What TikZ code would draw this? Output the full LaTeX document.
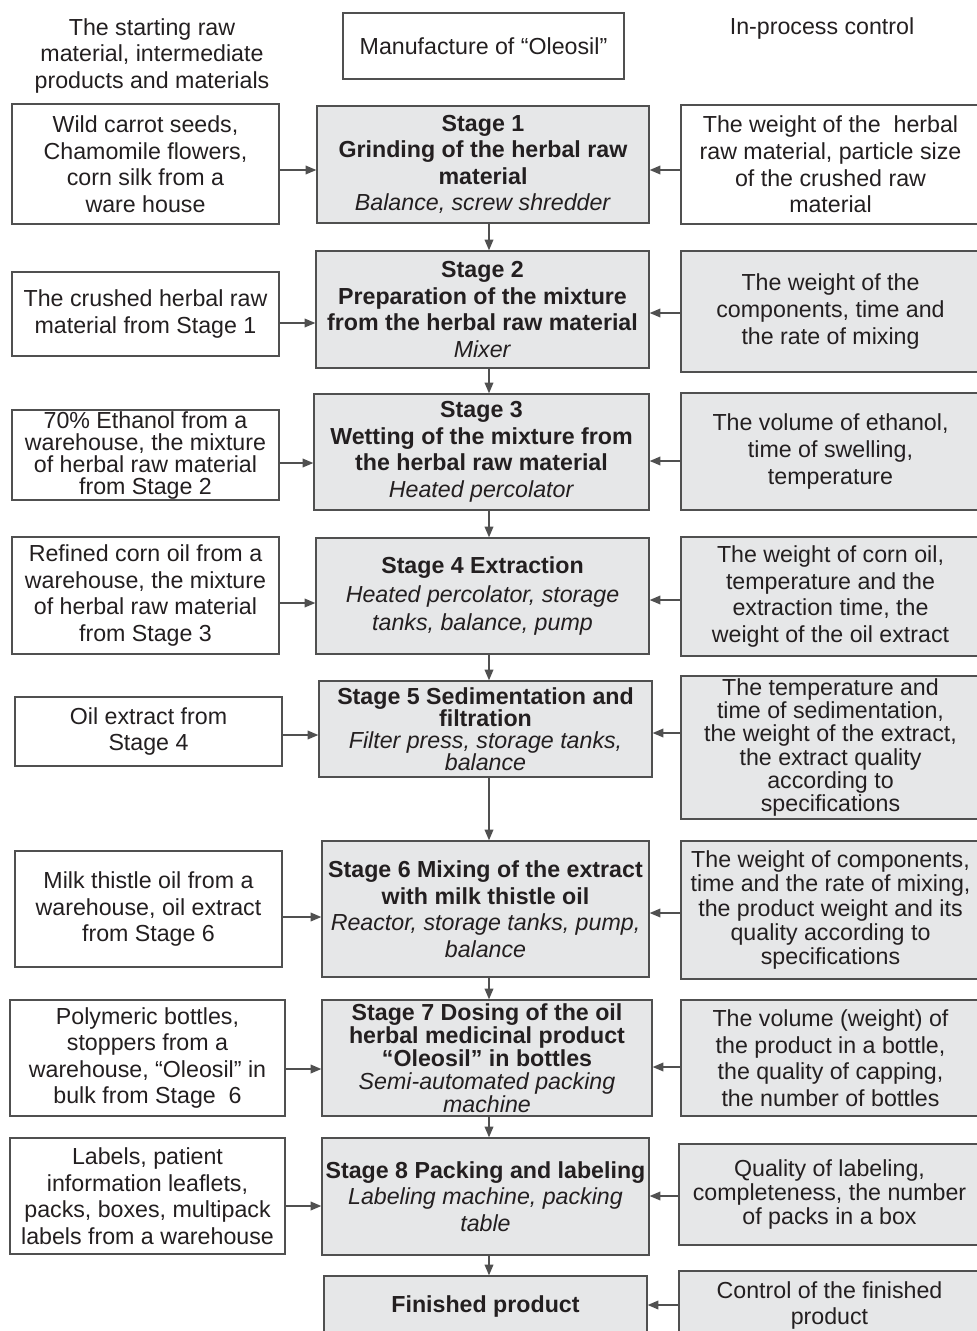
\documentclass[tikz,border=0pt]{standalone}
\usepackage{fontspec}
\setmainfont{Liberation Sans}
\usetikzlibrary{arrows.meta,calc}
\definecolor{boxgray}{RGB}{230,231,232}
\definecolor{linegray}{RGB}{80,80,80}
\definecolor{txt}{RGB}{35,31,32}
\tikzset{
  base/.style={draw=linegray, line width=1pt, inner sep=0pt, align=center, text=txt,
    font=\fontsize{17.4}{19.9}\selectfont},
  box/.style n args={4}{at={({(#1+#3)/2},{(#2+#4)/2})},
    minimum width={(#3-#1)*0.75pt}, minimum height={(#4-#2)*0.75pt}},
  stagebox/.style={base, fill=boxgray},
  inbox/.style={base, fill=white},
  ctlbox/.style={base, fill=boxgray},
  tight/.style={font=\fontsize{17.4}{16.5}\selectfont},
  mid/.style={font=\fontsize{17.4}{18.3}\selectfont},
  plain/.style={align=center, text=txt, font=\fontsize{17.4}{19.9}\selectfont, inner sep=0pt},
  arr/.style={draw=linegray, line width=1pt, -{Triangle[length=8pt,width=6.5pt]}},
}
\begin{document}
\begin{tikzpicture}[x=0.75pt,y=-0.75pt]
\useasboundingbox (0,0) rectangle (976,1331);
% headers
\node[plain] (H1) at (152,56) {The starting raw\\material, intermediate\\products and materials};
\node[inbox, box={343}{13}{624}{79}] (H2) {Manufacture of “Oleosil”};
\node[plain] (H3) at (822,29) {In-process control};
% stages
\node[stagebox, box={317}{106}{649}{223}] (S1) {\textbf{Stage 1}\\\textbf{Grinding of the herbal raw}\\\textbf{material}\\\textit{Balance, screw shredder}};
\node[stagebox, box={316}{251}{649}{368}] (S2) {\textbf{Stage 2}\\\textbf{Preparation of the mixture}\\\textbf{from the herbal raw material}\\\textit{Mixer}};
\node[stagebox, box={314}{394}{649}{510}] (S3) {\textbf{Stage 3}\\\textbf{Wetting of the mixture from}\\\textbf{the herbal raw material}\\\textit{Heated percolator}};
\node[stagebox, box={316}{538}{649}{654}, font=\fontsize{17.4}{21.4}\selectfont] (S4) {\textbf{Stage 4 Extraction}\\\textit{Heated percolator, storage}\\\textit{tanks, balance, pump}};
\node[stagebox, tight, box={319}{681}{652}{777}] (S5) {\textbf{Stage 5 Sedimentation and}\\\textbf{filtration}\\\textit{Filter press, storage tanks,}\\\textit{balance}};
\node[stagebox, box={322}{841}{649}{977}] (S6) {\textbf{Stage 6 Mixing of the extract}\\\textbf{with milk thistle oil}\\\textit{Reactor, storage tanks, pump,}\\\textit{balance}};
\node[stagebox, font=\fontsize{17.4}{17.2}\selectfont, box={322}{1000}{652}{1116}] (S7) {\textbf{Stage 7 Dosing of the oil}\\\textbf{herbal medicinal product}\\\textbf{“Oleosil” in bottles}\\\textit{Semi-automated packing}\\\textit{machine}};
\node[stagebox, box={322}{1138}{649}{1255}] (S8) {\textbf{Stage 8 Packing and labeling}\\\textit{Labeling machine, packing}\\\textit{table}};
\node[stagebox, box={324}{1276}{647}{1336}] (F) {\textbf{Finished product}};
% inputs
\node[inbox, box={12}{104}{279}{224}] (L1) {Wild carrot seeds,\\Chamomile flowers,\\corn silk from a\\ware house};
\node[inbox, box={12}{272}{279}{356}] (L2) {The crushed herbal raw\\material from Stage 1};
\node[inbox, tight, box={12}{410}{279}{500}] (L3) {70\% Ethanol from a\\warehouse, the mixture\\of herbal raw material\\from Stage 2};
\node[inbox, box={12}{537}{279}{654}] (L4) {Refined corn oil from a\\warehouse, the mixture\\of herbal raw material\\from Stage 3};
\node[inbox, box={15}{697}{282}{766}] (L5) {Oil extract from\\Stage 4};
\node[inbox, box={15}{851}{282}{967}] (L6) {Milk thistle oil from a\\warehouse, oil extract\\from Stage 6};
\node[inbox, box={10}{1000}{285}{1116}] (L7) {Polymeric bottles,\\stoppers from a\\warehouse, “Oleosil” in\\bulk from Stage~~6};
\node[inbox, box={10}{1138}{285}{1254}] (L8) {Labels, patient\\information leaflets,\\packs, boxes, multipack\\labels from a warehouse};
% controls
\node[inbox, box={681}{105}{980}{224}] (R1) {The weight of the~~herbal\\raw material, particle size\\of the crushed raw\\material};
\node[ctlbox, box={681}{251}{980}{372}] (R2) {The weight of the\\components, time and\\the rate of mixing};
\node[ctlbox, box={681}{393}{980}{510}] (R3) {The volume of ethanol,\\time of swelling,\\temperature};
\node[ctlbox, box={681}{537}{980}{656}] (R4) {The weight of corn oil,\\temperature and the\\extraction time, the\\weight of the oil extract};
\node[ctlbox, font=\fontsize{17.4}{17.5}\selectfont, box={681}{676}{980}{819}] (R5) {The temperature and\\time of sedimentation,\\the weight of the extract,\\the extract quality\\according to\\specifications};
\node[ctlbox, mid, box={681}{841}{980}{979}] (R6) {The weight of components,\\time and the rate of mixing,\\the product weight and its\\quality according to\\specifications};
\node[ctlbox, box={681}{1000}{980}{1116}] (R7) {The volume (weight) of\\the product in a bottle,\\the quality of capping,\\the number of bottles};
\node[ctlbox, mid, box={679}{1144}{980}{1245}] (R8) {Quality of labeling,\\completeness, the number\\of packs in a box};
\node[ctlbox, box={679}{1271}{980}{1340}] (R9) {Control of the finished\\product};
% vertical flow
\coordinate (cx) at (489,0);
\foreach \a/\b in {S1/S2,S2/S3,S3/S4,S4/S5,S5/S6,S6/S7,S7/S8,S8/F}
  \draw[arr] (\a.south -| cx) -- (\b.north -| cx);
% left arrows
\foreach \l/\s/\y in {L1/S1/170,L2/S2/323,L3/S3/463,L4/S4/603,L5/S5/735,L6/S6/917,L7/S7/1069,L8/S8/1206}{
  \coordinate (ly) at (0,\y);
  \draw[arr] (\l.east |- ly) -- (\s.west |- ly);
}
% right arrows
\foreach \r/\s/\y in {R1/S1/170,R2/S2/313,R3/S3/461,R4/S4/600,R5/S5/733,R6/S6/913,R7/S7/1067,R8/S8/1196,R9/F/1305}{
  \coordinate (ry) at (0,\y);
  \draw[arr] (\r.west |- ry) -- (\s.east |- ry);
}
\end{tikzpicture}
\end{document}
